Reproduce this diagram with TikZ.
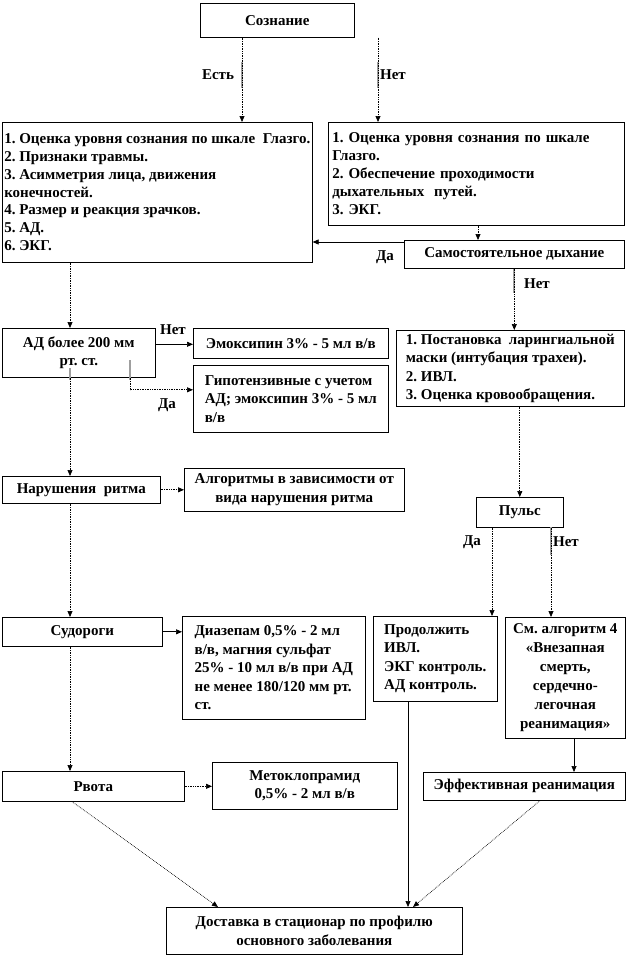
\documentclass[tikz,border=0pt]{standalone}
\usepackage{fontspec}
\setmainfont{Liberation Serif}
\usetikzlibrary{arrows.meta}
\begin{document}
\frenchspacing
\begin{tikzpicture}[x=1pt,y=-1pt,
  font=\bfseries\fontsize{15}{18.5}\selectfont,
  box/.style={draw=black, line width=0.6pt, anchor=north west, inner xsep=2pt, inner ysep=2pt, align=center},
  lbox/.style={box, align=left},
  tip/.style={-{Triangle[length=6pt,width=5pt]}},
  dline/.style={densely dotted, line width=0.7pt, tip},
  sline/.style={line width=0.7pt, tip},
  lbl/.style={inner sep=1pt},
  gseg/.style={draw=gray!75, line width=1.2pt}]
\useasboundingbox (0,0) rectangle (628,958);

\node[box, minimum width=154, minimum height=34] (soz) at (200,3) {Сознание};
\node[lbox, inner xsep=1pt, minimum width=310, minimum height=140, font=\bfseries\fontsize{15}{17.8}\selectfont] (L1) at (2,122) {1. Оценка уровня сознания по шкале~~Глазго.\\2. Признаки травмы.\\3. Асимметрия лица, движения\\конечностей.\\4. Размер и реакция зрачков.\\5. АД.\\6. ЭКГ.};
\node[lbox, inner xsep=4pt, text width=288, minimum height=103, font=\bfseries\fontsize{15}{18}\selectfont] (R1) at (328,122) {1. Оценка уровня сознания по шкале\\Глазго.\\2. Обеспечение проходимости\\дыхательных~~путей.\\3. ЭКГ.};
\node[box, minimum width=220, minimum height=28] (SD) at (404,240) {Самостоятельное дыхание};
\node[box, minimum width=153, minimum height=49] (AD) at (2,328) {АД более 200 мм\\рт. ст.};
\node[box, minimum width=195, minimum height=30] (Emo) at (193,328) {Эмоксипин 3\% - 5 мл в/в};
\node[lbox, minimum width=195, minimum height=67] (Gip) at (193,365) {Гипотензивные с учетом\\АД; эмоксипин 3\% - 5 мл\\в/в};
\node[lbox, minimum width=228, minimum height=76] (Pos) at (396,330) {1. Постановка~~ларингиальной\\маски (интубация трахеи).\\2. ИВЛ.\\3. Оценка кровообращения.};
\node[box, minimum width=158, minimum height=27] (Nar) at (2,476) {Нарушения~~ритма};
\node[box, minimum width=220, minimum height=43] (Alg) at (184,468) {Алгоритмы в зависимости от\\вида нарушения ритма};
\node[box, minimum width=87, minimum height=30] (Pul) at (476,497) {Пульс};
\node[box, minimum width=160, minimum height=29] (Sud) at (2,617) {Судороги};
\node[lbox, minimum width=183, minimum height=103] (Dia) at (182,616) {Диазепам 0,5\% - 2 мл\\в/в, магния сульфат\\25\% - 10 мл в/в при АД\\не менее 180/120 мм рт.\\ст.};
\node[lbox, minimum width=124, minimum height=85] (Pro) at (373,616) {Продолжить\\ИВЛ.\\ЭКГ контроль.\\АД контроль.};
\node[box, minimum width=120, minimum height=121, font=\bfseries\fontsize{15}{19}\selectfont] (Sm) at (505,617) {См. алгоритм 4\\«Внезапная\\смерть,\\сердечно-\\легочная\\реанимация»};
\node[box, minimum width=182, minimum height=30] (Rvo) at (2,771) {Рвота};
\node[box, minimum width=185, minimum height=47] (Met) at (212,762) {Метоклопрамид\\0,5\% - 2 мл в/в};
\node[box, minimum width=202, minimum height=28] (Eff) at (423,772) {Эффективная реанимация};
\node[box, minimum width=296, minimum height=47] (Dos) at (166,907) {Доставка в стационар по профилю\\основного заболевания};

\node[lbl] (lEst) at (218,75) {Есть};
\node[lbl] (lNet1) at (393,75) {Нет};
\node[lbl] (lDa1) at (385,257) {Да};
\node[lbl] (lNet2) at (537,284) {Нет};
\node[lbl] (lNet3) at (173,330) {Нет};
\node[lbl] (lDa2) at (167,405) {Да};
\node[lbl] (lDa3) at (472,542) {Да};
\node[lbl] (lNet4) at (566,542) {Нет};

% gray label-edge segments
\draw[gseg] (242,62) -- (242,88);
\draw[gseg] (378,62) -- (378,88);
\draw[gseg] (514,269) -- (514,293);
\draw[gseg] (551,527) -- (551,555);
\draw[gseg] (130,360) -- (130,380);
\draw[gseg] (70,368) -- (70,380);

% connectors
\draw[dline] ([xshift=42pt]soz.south west) -- ([xshift=42pt]soz.south west |- L1.north);
\draw[dline] ([xshift=178pt]soz.south west) -- ([xshift=178pt]soz.south west |- R1.north);
\draw[dline] ([xshift=150pt]R1.south west) -- ([xshift=150pt]R1.south west |- SD.north);
\draw[sline] ([yshift=-2pt]SD.north west) -- ([yshift=-2pt]SD.north west -| L1.east);
\draw[dline] (SD.south) -- (SD.south |- Pos.north);
\draw[dline] ([xshift=68pt]L1.south west) -- ([xshift=68pt]L1.south west |- AD.north);
\draw[sline] ([yshift=-1pt]Emo.west -| AD.east) -- ([yshift=-1pt]Emo.west);
\draw[dline] ([xshift=128pt]AD.south west) |- ([yshift=9pt]Gip.west);
\draw[dline] ([xshift=68pt]AD.south west) -- ([xshift=68pt]AD.south west |- Nar.north);
\draw[dline] (Nar.east) -- (Alg.west);
\draw[dline] (Pul.north |- Pos.south) -- (Pul.north);
\draw[dline] ([xshift=16pt]Pul.south west) -- ([xshift=16pt]Pul.south west |- Pro.north);
\draw[dline] ([xshift=75pt]Pul.south west) -- ([xshift=75pt]Pul.south west |- Sm.north);
\draw[dline] ([xshift=68pt]Nar.south west) -- ([xshift=68pt]Nar.south west |- Sud.north);
\draw[sline] (Sud.east) -- (Sud.east -| Dia.west);
\draw[dline] ([xshift=68pt]Sud.south west) -- ([xshift=68pt]Sud.south west |- Rvo.north);
\draw[dline] (Rvo.east) -- (Rvo.east -| Met.west);
\draw[sline] ([xshift=69pt]Sm.south west) -- ([xshift=69pt]Sm.south west |- Eff.north);
\draw[sline] ([xshift=35pt]Pro.south west) -- ([xshift=35pt]Pro.south west |- Dos.north);
\draw[dline] ([xshift=70pt]Rvo.south west) -- ([xshift=52pt]Dos.north west);
\draw[dline] ([xshift=117pt]Eff.south west) -- ([xshift=247pt]Dos.north west);
\end{tikzpicture}
\end{document}
